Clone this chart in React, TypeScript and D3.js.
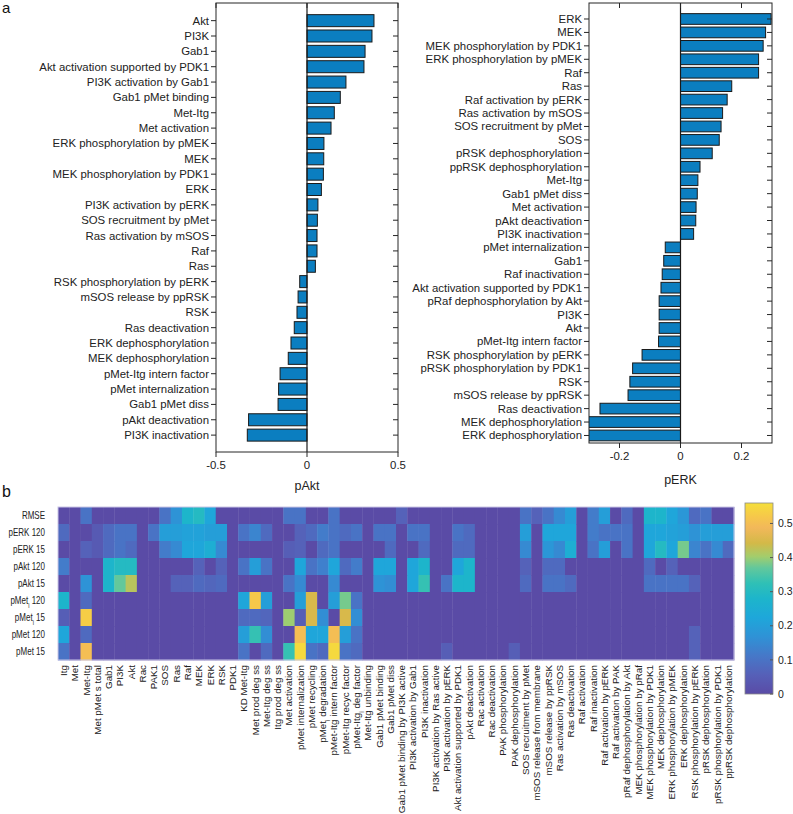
import React, { useEffect, useRef } from 'react';
import * as d3 from 'd3';

// panel a, left: sensitivity of pAkt
const paktLabels = [
  'Akt', 'PI3K', 'Gab1', 'Akt activation supported by PDK1', 'PI3K activation by Gab1',
  'Gab1 pMet binding', 'Met-Itg', 'Met activation', 'ERK phosphorylation by pMEK', 'MEK',
  'MEK phosphorylation by PDK1', 'ERK', 'PI3K activation by pERK', 'SOS recruitment by pMet',
  'Ras activation by mSOS', 'Raf', 'Ras', 'RSK phosphorylation by pERK', 'mSOS release by ppRSK',
  'RSK', 'Ras deactivation', 'ERK dephosphorylation', 'MEK dephosphorylation',
  'pMet-Itg intern factor', 'pMet internalization', 'Gab1 pMet diss', 'pAkt deactivation',
  'PI3K inactivation',
];
const paktValues = [
  0.368, 0.357, 0.319, 0.313, 0.214, 0.183, 0.15, 0.132, 0.093, 0.092, 0.09, 0.079, 0.06, 0.057,
  0.055, 0.055, 0.046, -0.04, -0.049, -0.055, -0.07, -0.088, -0.103, -0.148, -0.156, -0.159,
  -0.321, -0.328,
];

// panel a, right: sensitivity of pERK
const perkLabels = [
  'ERK', 'MEK', 'MEK phosphorylation by PDK1', 'ERK phosphorylation by pMEK', 'Raf', 'Ras',
  'Raf activation by pERK', 'Ras activation by mSOS', 'SOS recruitment by pMet', 'SOS',
  'pRSK dephosphorylation', 'ppRSK dephosphorylation', 'Met-Itg', 'Gab1 pMet diss',
  'Met activation', 'pAkt deactivation', 'PI3K inactivation', 'pMet internalization', 'Gab1',
  'Raf inactivation', 'Akt activation supported by PDK1', 'pRaf dephosphorylation by Akt', 'PI3K',
  'Akt', 'pMet-Itg intern factor', 'RSK phosphorylation by pERK', 'pRSK phosphorylation by PDK1',
  'RSK', 'mSOS release by ppRSK', 'Ras deactivation', 'MEK dephosphorylation',
  'ERK dephosphorylation',
];
const perkValues = [
  0.297, 0.279, 0.271, 0.256, 0.256, 0.168, 0.153, 0.138, 0.133, 0.127, 0.104, 0.064, 0.057,
  0.055, 0.051, 0.05, 0.043, -0.05, -0.055, -0.06, -0.064, -0.07, -0.07, -0.07, -0.072, -0.126,
  -0.157, -0.166, -0.172, -0.264, -0.33, -0.33,
];

// panel b: heatmap
const heatRowLabels = [
  'RMSE', 'pERK 120', 'pERK 15', 'pAkt 120', 'pAkt 15', 'pMet_i 120', 'pMet_i 15', 'pMet 120',
  'pMet 15',
];
const heatColLabels = [
  'Itg', 'Met', 'Met-Itg', 'Met pMet s total', 'Gab1', 'PI3K', 'Akt', 'Rac', 'PAK1', 'SOS', 'Ras',
  'Raf', 'MEK', 'ERK', 'RSK', 'PDK1', 'KD Met-Itg', 'Met prod deg ss', 'Met-Itg deg ss',
  'Itg prod deg ss', 'Met activation', 'pMet internalization', 'pMet recycling',
  'pMet_i degradation', 'pMet-Itg intern factor', 'pMet-Itg recyc factor', 'pMet-Itg_i deg factor',
  'Met-Itg unbinding', 'Gab1 pMet binding', 'Gab1 pMet diss', 'Gab1 pMet binding by PI3K active',
  'PI3K activation by Gab1', 'PI3K inactivation', 'PI3K activation by Ras active',
  'PI3K activation by pERK', 'Akt activation supported by PDK1', 'pAkt deactivation',
  'Rac activation', 'Rac deactivation', 'PAK phosphorylation', 'PAK dephosphorylation',
  'SOS recruitment by pMet', 'mSOS release from membrane', 'mSOS release by ppRSK',
  'Ras activation by mSOS', 'Ras deactivation', 'Raf activation', 'Raf inactivation',
  'Raf activation by pERK', 'Raf activation by PAK', 'pRaf dephosphorylation by Akt',
  'MEK phosphorylation by pRaf', 'MEK phosphorylation by PDK1', 'MEK dephosphorylation',
  'ERK phosphorylation by pMEK', 'ERK dephosphorylation', 'RSK phosphorylation by pERK',
  'pRSK dephosphorylation', 'pRSK phosphorylation by PDK1', 'ppRSK dephosphorylation',
];

const rmse = [
  0, 0, 0.1, 0, 0, 0, 0, 0, 0, 0.1,
  0.17, 0.28, 0.3, 0.22, 0, 0, 0, 0, 0, 0,
  0.1, 0.1, 0, 0, 0.1, 0, 0, 0, 0, 0,
  0.06, 0, 0, 0, 0, 0, 0, 0, 0, 0,
  0, 0.1, 0.06, 0.1, 0.15, 0.2, 0, 0.12, 0.2, 0,
  0.08, 0, 0.28, 0.28, 0.22, 0.18, 0.08, 0.1, 0, 0,
];
const perk120 = [
  0.08, 0, 0, 0.04, 0.08, 0.1, 0.1, 0, 0.1, 0.2,
  0.2, 0.21, 0.21, 0.2, 0.2, 0, 0.1, 0.14, 0.08, 0,
  0, 0.06, 0.08, 0.12, 0.1, 0.08, 0.1, 0, 0.1, 0.1,
  0, 0.1, 0.1, 0, 0, 0.1, 0.08, 0, 0, 0,
  0, 0.2, 0, 0.22, 0.22, 0.22, 0, 0.12, 0.1, 0.1,
  0.1, 0, 0.22, 0.22, 0.21, 0.2, 0.17, 0.2, 0.2, 0.2,
];
const perk15 = [
  0, 0, 0.06, 0.04, 0.08, 0.1, 0.08, 0, 0, 0.12,
  0.15, 0.22, 0.22, 0.25, 0.15, 0, 0, 0, 0, 0,
  0.05, 0.06, 0, 0.08, 0.1, 0, 0, 0, 0, 0.08,
  0, 0, 0.08, 0, 0, 0.08, 0.08, 0, 0, 0,
  0, 0.15, 0, 0.18, 0.15, 0.25, 0, 0.1, 0.2, 0,
  0.1, 0, 0.22, 0.3, 0.22, 0.38, 0.14, 0.1, 0.15, 0.08,
];
const pakt120 = [
  0.12, 0, 0, 0, 0.28, 0.3, 0.3, 0, 0, 0,
  0, 0, 0.06, 0, 0.06, 0, 0.1, 0.2, 0.1, 0,
  0, 0.22, 0.1, 0.13, 0.22, 0.08, 0.12, 0, 0.22, 0.22,
  0, 0.22, 0.28, 0, 0, 0.22, 0.28, 0, 0, 0,
  0, 0.06, 0, 0.08, 0.08, 0, 0, 0, 0, 0,
  0, 0, 0.08, 0, 0.06, 0, 0, 0, 0, 0,
];
const pakt15 = [
  0, 0, 0.17, 0, 0.28, 0.37, 0.42, 0, 0, 0,
  0.06, 0.06, 0.08, 0.07, 0.08, 0, 0, 0, 0, 0,
  0.1, 0.15, 0, 0, 0.15, 0, 0, 0, 0.17, 0.16,
  0, 0.22, 0.33, 0, 0.1, 0.28, 0.28, 0, 0, 0,
  0, 0.08, 0, 0.1, 0.1, 0.08, 0, 0, 0, 0,
  0, 0, 0.1, 0.1, 0.1, 0.1, 0.06, 0, 0, 0,
];
const pmeti120 = [
  0.28, 0, 0.08, 0, 0, 0, 0, 0, 0, 0,
  0, 0, 0, 0, 0, 0, 0.22, 0.52, 0.2, 0,
  0, 0.2, 0.45, 0, 0.2, 0.38, 0.1, 0, 0, 0,
  0, 0, 0, 0, 0, 0, 0, 0, 0, 0,
  0, 0, 0, 0, 0, 0, 0, 0, 0, 0,
  0, 0, 0, 0, 0, 0, 0, 0, 0, 0,
];
const pmeti15 = [
  0.05, 0, 0.53, 0, 0, 0, 0, 0, 0, 0,
  0, 0, 0, 0, 0, 0, 0.08, 0.08, 0.07, 0,
  0.4, 0.05, 0.45, 0.16, 0, 0.45, 0.16, 0, 0, 0,
  0, 0, 0, 0, 0, 0, 0, 0, 0, 0,
  0, 0, 0, 0, 0, 0, 0, 0, 0, 0,
  0, 0, 0, 0, 0, 0, 0, 0, 0, 0,
];
const pmet120 = [
  0.22, 0, 0.08, 0, 0, 0, 0, 0, 0, 0,
  0, 0, 0, 0, 0, 0, 0.2, 0.33, 0.16, 0,
  0, 0.5, 0.22, 0.22, 0.5, 0.2, 0.1, 0, 0, 0,
  0, 0, 0, 0, 0, 0, 0, 0, 0, 0,
  0, 0, 0, 0, 0, 0, 0, 0, 0, 0,
  0, 0, 0, 0, 0, 0, 0.06, 0, 0, 0,
];
const pmet15 = [
  0.1, 0, 0.5, 0, 0, 0, 0, 0, 0, 0,
  0, 0, 0, 0, 0, 0, 0.1, 0, 0.08, 0,
  0.33, 0.55, 0.1, 0.08, 0.55, 0.1, 0.08, 0, 0, 0,
  0, 0, 0, 0, 0.05, 0, 0, 0, 0, 0,
  0.05, 0, 0, 0, 0, 0, 0, 0, 0, 0,
  0, 0, 0, 0, 0, 0, 0.06, 0, 0, 0,
];
const heatRows = [rmse, perk120, perk15, pakt120, pakt15, pmeti120, pmeti15, pmet120, pmet15];

const colorbarTicks = [0, 0.1, 0.2, 0.3, 0.4, 0.5];
const colorMax = 0.56;
// washed-out parula look
const parulaPos = [0, 0.1, 0.2, 0.3, 0.4, 0.5, 0.58, 0.66, 0.72, 0.79, 0.87, 0.93, 1];
const parulaColors = [
  '#5a4ba6', '#5660b8', '#4678c8', '#2f92d6', '#1ea7da', '#1db5cb', '#2fc0b6', '#62c89c',
  '#a3cd6c', '#d3b948', '#f2b85a', '#f6c84a', '#f5df3a',
];

const FONT = '"Liberation Sans", Arial, Helvetica, sans-serif';

// text with an "_x" subscript
const addText = (sel, text) => {
  const m = text.match(/^(.*?)_(\w)(.*)$/);
  if (!m) {
    sel.text(text);
    return;
  }
  sel.append('tspan').text(m[1]);
  sel.append('tspan').attr('baseline-shift', 'sub').attr('font-size', '0.7em').text(m[2]);
  sel.append('tspan').text(m[3]);
};

const App = () => {
  const ref = useRef();

  useEffect(() => {
    const root = d3.select(ref.current);
    root.selectAll('*').remove();

    const svg = root
      .append('svg')
      .attr('width', 793)
      .attr('height', 814)
      .style('position', 'absolute')
      .style('left', 0)
      .style('top', 0)
      .style('font-family', FONT);

    svg.append('rect').attr('width', 793).attr('height', 814).attr('fill', '#fff');

    const drawBars = (opts) => {
      const { labels, values, x0, x1, y0, y1, domain, yDomain, ticks, title, titleY, id, barH } = opts;
      const x = d3.scaleLinear().domain(domain).range([x0, x1]);
      const y = d3.scaleLinear().domain(yDomain).range([y0, y1]);
      const g = svg.append('g');

      g.append('clipPath').attr('id', id).append('rect')
        .attr('x', x0).attr('y', y0).attr('width', x1 - x0).attr('height', y1 - y0);

      g.append('g').attr('clip-path', `url(#${id})`)
        .selectAll('rect')
        .data(values)
        .enter()
        .append('rect')
        .attr('x', (d) => x(Math.min(0, d)))
        .attr('width', (d) => Math.abs(x(d) - x(0)))
        .attr('y', (_, i) => y(i) - barH / 2)
        .attr('height', barH)
        .attr('fill', '#0b7ec0')
        .attr('stroke', '#1a1a1a')
        .attr('stroke-width', 1);

      // zero line
      g.append('line')
        .attr('x1', x(0)).attr('x2', x(0)).attr('y1', y0).attr('y2', y1)
        .attr('stroke', '#1a1a1a').attr('stroke-width', 1.2);

      // box
      g.append('rect')
        .attr('x', x0).attr('y', y0).attr('width', x1 - x0).attr('height', y1 - y0)
        .attr('fill', 'none').attr('stroke', '#262626').attr('stroke-width', 1);

      labels.forEach((lab, i) => {
        g.append('line').attr('x1', x0 - 5).attr('x2', x0).attr('y1', y(i)).attr('y2', y(i))
          .attr('stroke', '#262626');
        g.append('line').attr('x1', x1 - 5).attr('x2', x1).attr('y1', y(i)).attr('y2', y(i))
          .attr('stroke', '#262626');
        g.append('text')
          .attr('x', x0 - 7).attr('y', y(i)).attr('dy', '0.35em')
          .attr('text-anchor', 'end').attr('font-size', 11.4).attr('fill', '#222')
          .text(lab);
      });

      ticks.forEach((t) => {
        g.append('line').attr('x1', x(t)).attr('x2', x(t)).attr('y1', y1).attr('y2', y1 + 5)
          .attr('stroke', '#262626');
        g.append('line').attr('x1', x(t)).attr('x2', x(t)).attr('y1', y0).attr('y2', y0 + 5)
          .attr('stroke', '#262626');
        g.append('text')
          .attr('x', x(t)).attr('y', y1 + 17)
          .attr('text-anchor', 'middle').attr('font-size', 11.4).attr('fill', '#222')
          .text(t === 0 ? '0' : String(t));
      });

      g.append('text')
        .attr('x', (x0 + x1) / 2).attr('y', titleY)
        .attr('text-anchor', 'middle').attr('font-size', 12.5).attr('fill', '#222')
        .text(title);
    };

    drawBars({
      labels: paktLabels, values: paktValues, x0: 216, x1: 398, y0: 3, y1: 452,
      domain: [-0.5, 0.5], yDomain: [-1.15, 28.1], ticks: [-0.5, 0, 0.5],
      title: 'pAkt', titleY: 490, id: 'clipA', barH: 12,
    });
    drawBars({
      labels: perkLabels, values: perkValues, x0: 589, x1: 772, y0: 3, y1: 443,
      domain: [-0.3, 0.3], yDomain: [-1.19, 31.56], ticks: [-0.2, 0, 0.2],
      title: 'pERK', titleY: 484, id: 'clipB', barH: 10.7,
    });

    svg.append('text').attr('x', 2).attr('y', 13).attr('font-size', 15).attr('fill', '#111').text('a');
    svg.append('text').attr('x', 2).attr('y', 497).attr('font-size', 16).attr('fill', '#111').text('b');

    // heatmap
    const color = d3.scaleLinear()
      .domain(parulaPos.map((p) => p * colorMax))
      .range(parulaColors)
      .interpolate(d3.interpolateRgb)
      .clamp(true);

    const hx = d3.scaleBand().domain(d3.range(heatColLabels.length)).range([58, 734]);
    const hy = d3.scaleBand().domain(d3.range(heatRowLabels.length)).range([507, 660]);
    const hm = svg.append('g');

    heatRows.forEach((row, r) => {
      hm.selectAll(null)
        .data(row)
        .enter()
        .append('rect')
        .attr('x', (_, c) => hx(c))
        .attr('y', hy(r))
        .attr('width', hx.bandwidth() + 0.4)
        .attr('height', hy.bandwidth() + 0.4)
        .attr('fill', (d) => color(d));
    });
    hm.append('rect')
      .attr('x', 58).attr('y', 507).attr('width', 676).attr('height', 153)
      .attr('fill', 'none').attr('stroke', '#c9c6e6').attr('stroke-width', 1);

    // row labels are horizontally narrow in the original
    heatRowLabels.forEach((lab, r) => {
      const t = hm.append('text')
        .attr('transform', `translate(45,${hy(r) + hy.bandwidth() / 2}) scale(0.8,1)`)
        .attr('dy', '0.35em')
        .attr('text-anchor', 'end').attr('font-size', 10).attr('fill', '#222');
      addText(t, lab);
    });

    heatColLabels.forEach((lab, c) => {
      const t = hm.append('text')
        .attr('transform', `translate(${hx(c) + hx.bandwidth() / 2},665) rotate(-90)`)
        .attr('dy', '0.35em')
        .attr('text-anchor', 'end').attr('font-size', 9.8).attr('fill', '#222');
      addText(t, lab);
    });

    // colorbar
    const cy = d3.scaleLinear().domain([0, colorMax]).range([694, 503]);
    const grad = svg.append('defs').append('linearGradient')
      .attr('id', 'cbar').attr('x1', 0).attr('x2', 0).attr('y1', 1).attr('y2', 0);
    parulaPos.forEach((p, i) => {
      grad.append('stop').attr('offset', p).attr('stop-color', parulaColors[i]);
    });
    svg.append('rect')
      .attr('x', 745).attr('y', 503).attr('width', 28).attr('height', 191)
      .attr('fill', 'url(#cbar)').attr('stroke', '#8a8a8a').attr('stroke-width', 0.8);
    colorbarTicks.forEach((t) => {
      svg.append('line').attr('x1', 770).attr('x2', 773).attr('y1', cy(t)).attr('y2', cy(t))
        .attr('stroke', '#555');
      svg.append('text')
        .attr('x', 778).attr('y', cy(t)).attr('dy', '0.35em')
        .attr('font-size', 10.5).attr('fill', '#222')
        .text(t === 0 ? '0' : String(t));
    });
  }, []);

  return <div ref={ref}></div>;
};

export default App;
